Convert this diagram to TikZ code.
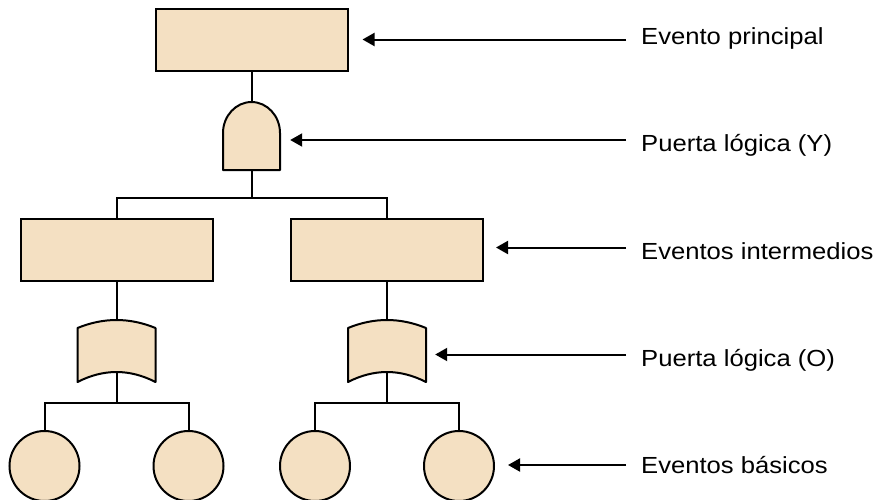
\documentclass[tikz,border=0pt]{standalone}
\usepackage{fontspec}
\setmainfont{Liberation Sans}
\usetikzlibrary{arrows.meta,calc}
\definecolor{evfill}{RGB}{244,224,194}
\begin{document}
\begin{tikzpicture}[x=1pt,y=-1pt,
  lw/.style={line width=2pt},
  evbox/.style={draw, lw, fill=evfill, rectangle, minimum width=192pt, minimum height=62pt, inner sep=0pt},
  basic/.style={draw, lw, fill=evfill, circle, minimum size=70pt, inner sep=0pt},
  gatearea/.style={inner sep=0pt, rectangle},
  gateshape/.style={draw, lw, fill=evfill, line join=round},
  conn/.style={lw},
  pointer/.style={lw, -{Triangle[length=12pt,width=13pt]}},
  lbl/.style={anchor=base west, inner sep=0pt, font=\fontsize{23.3}{28}\selectfont}
]
\useasboundingbox (0,0) rectangle (875,499);

% events
\node[evbox] (top) at (251.5,39.5) {};
\node[evbox] (i1) at (116.5,249.5) {};
\node[evbox] (i2) at (387,249.5) {};
\node[basic] (b1) at (44.5,466) {};
\node[basic] (b2) at (188.5,466) {};
\node[basic] (b3) at (315,466) {};
\node[basic] (b4) at (459,466) {};

% gate placeholders
\node[gatearea, minimum width=57pt, minimum height=68pt] (and) at (251.5,136) {};
\node[gatearea, minimum width=78pt, minimum height=62pt] (or1) at (116.5,351) {};
\node[gatearea, minimum width=78pt, minimum height=62pt] (or2) at (387,351) {};

% junctions
\coordinate (j1) at (251.5,198);
\coordinate (j2) at (116.5,403);
\coordinate (j3) at (387,403);

% connectors (gates are drawn over them)
\draw[conn] (top.south) -- (and.center) -- (j1);
\draw[conn] (i1.north) |- (j1) -| (i2.north);
\draw[conn] (i1.south) -- (or1.center) -- (j2);
\draw[conn] (b1.north) |- (j2) -| (b2.north);
\draw[conn] (i2.south) -- (or2.center) -- (j3);
\draw[conn] (b3.north) |- (j3) -| (b4.north);

% AND gate
\draw[gateshape, shift={(and.center)}]
  (-28.5,34) -- (-28.5,-3) .. controls (-28.5,-20) and (-15.7,-34) .. (0,-34)
  .. controls (15.7,-34) and (28.5,-20) .. (28.5,-3) -- (28.5,34) -- cycle;

% OR gates
\foreach \g in {or1,or2}{
  \draw[gateshape, shift={(\g.center)}]
    (-39,-23) .. controls (-13,-33.67) and (13,-33.67) .. (39,-23)
    -- (39,31) .. controls (13,17.67) and (-13,17.67) .. (-39,31) -- cycle;
}

% labels
\node[lbl] (l1) at (641,44) {\scalebox{1.1}[1]{Evento principal}};
\node[lbl] (l2) at (641,151) {\scalebox{1.1}[1]{Puerta lógica (Y)}};
\node[lbl] (l3) at (641,259) {\scalebox{1.1}[1]{Eventos intermedios}};
\node[lbl] (l4) at (641,366) {\scalebox{1.1}[1]{Puerta lógica (O)}};
\node[lbl] (l5) at (641,473) {\scalebox{1.1}[1]{Eventos básicos}};

% pointers
\coordinate (a1) at (626,39.5);
\coordinate (a2) at (626,140);
\coordinate (a3) at (626,247.5);
\coordinate (a4) at (626,354.5);
\coordinate (a5) at (626,465);
\draw[pointer] (a1) -- ([xshift=14pt]a1 -| top.east);
\draw[pointer] (a2) -- ([xshift=10pt]a2 -| and.east);
\draw[pointer] (a3) -- ([xshift=12pt]a3 -| i2.east);
\draw[pointer] (a4) -- ([xshift=9pt]a4 -| or2.east);
\draw[pointer] (a5) -- ([xshift=13pt]a5 -| b4.east);
\end{tikzpicture}
\end{document}
